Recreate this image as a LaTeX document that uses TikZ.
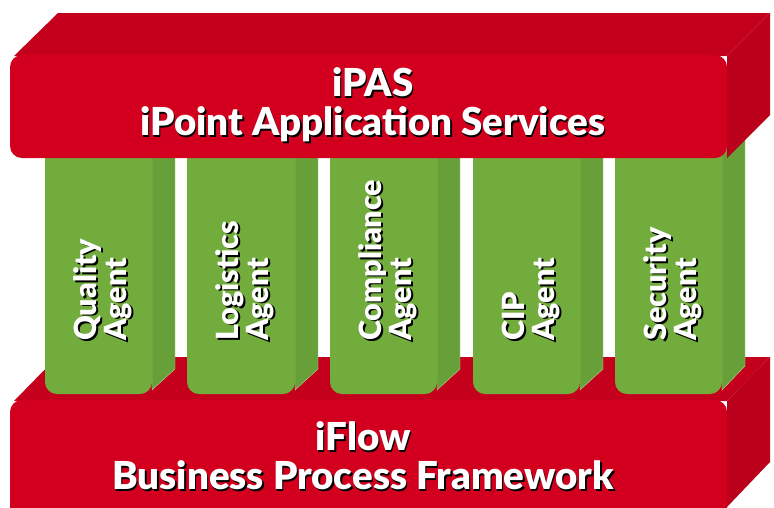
\documentclass[tikz,border=0pt]{standalone}
\usepackage{fontspec}
\setmainfont{Lato}[BoldFont={Lato Black}]
\usepackage{tikz}
\definecolor{ipred}{RGB}{210,0,30}
\definecolor{ipredtop}{RGB}{196,0,28}
\definecolor{ipredside}{RGB}{186,0,26}
\definecolor{ipgreen}{RGB}{114,172,61}
\definecolor{ipgreenside}{RGB}{103,160,56}
\tikzset{every picture/.append style={x=1pt, y=-1pt}}
\tikzset{
    redfront/.style={fill=ipred, rounded corners=12pt},
    redtop/.style={fill=ipredtop},
    redside/.style={fill=ipredside},
    colfront/.style={fill=ipgreen, rounded corners=12pt},
    colside/.style={fill=ipgreenside, draw=ipgreen!50!white, line width=.4pt},
    bartext/.style={text=white, inner sep=0, align=center,
        font=\fontsize{38.5}{39}\selectfont\bfseries},
    agenttext/.style={text=white, inner sep=0, align=left, rotate=90,
        anchor=west, font=\fontsize{30.5}{30}\selectfont\bfseries},
    shadowed/.style={text=black}
}

\begin{document}
\begin{tikzpicture}
  \useasboundingbox (0,0) rectangle (774,507);

  % iFlow, bottom bar
  \path[redtop] (14,401) -- (57,357) -- (770,357) -- (727,401) -- cycle;
  \path[redside] (727,401) -- (770,357) -- (770,462) -- (727,507) -- cycle;
  \path[redfront] (10,400) rectangle (727,520);

  % agent columns
  \path[colside] (152,152) -- (175,129) -- (175,369) -- (152,390) -- cycle;
  \path[colfront] (45,140) rectangle (152,394);
  \path[colside] (295,152) -- (318,129) -- (318,369) -- (295,390) -- cycle;
  \path[colfront] (187,140) rectangle (295,394);
  \path[colside] (437,152) -- (460,129) -- (460,369) -- (437,390) -- cycle;
  \path[colfront] (330,140) rectangle (437,394);
  \path[colside] (580,152) -- (603,129) -- (603,369) -- (580,390) -- cycle;
  \path[colfront] (473,140) rectangle (580,394);
  \path[colside] (722,152) -- (745,129) -- (745,366) -- (722,390) -- cycle;
  \path[colfront] (615,140) rectangle (722,394);

  % iPAS, top bar
  \path[redtop] (14,56) -- (58,13) -- (770,13) -- (727,56) -- cycle;
  \path[redside] (727,56) -- (770,13) -- (770,115) -- (727,158) -- cycle;
  \path[redfront] (10,55) rectangle (727,158);

  \node (ipas_s) [bartext, shadowed] at (374.5,106.5) {iPAS\\iPoint Application Services};
  \node (ipas) [bartext] at (373,105) {iPAS\\iPoint Application Services};
  \node (iflow_s) [bartext, shadowed] at (364.5,457.5) {iFlow\\Business Process Framework};
  \node (iflow) [bartext] at (363,456) {iFlow\\Business Process Framework};

  \node (quality_s) [agenttext, shadowed] at (104.5,342.5) {Quality\\Agent};
  \node (quality) [agenttext] at (103,341) {Quality\\Agent};
  \node (logistics_s) [agenttext, shadowed] at (246.5,342.5) {Logistics\\Agent};
  \node (logistics) [agenttext] at (245,341) {Logistics\\Agent};
  \node (compliance_s) [agenttext, shadowed] at (389.5,342.5) {Compliance\\Agent};
  \node (compliance) [agenttext] at (388,341) {Compliance\\Agent};
  \node (cip_s) [agenttext, shadowed] at (532.5,342.5) {CIP\\Agent};
  \node (cip) [agenttext] at (531,341) {CIP\\Agent};
  \node (security_s) [agenttext, shadowed] at (674.5,342.5) {Security\\Agent};
  \node (security) [agenttext] at (673,341) {Security\\Agent};
\end{tikzpicture}
\end{document}
